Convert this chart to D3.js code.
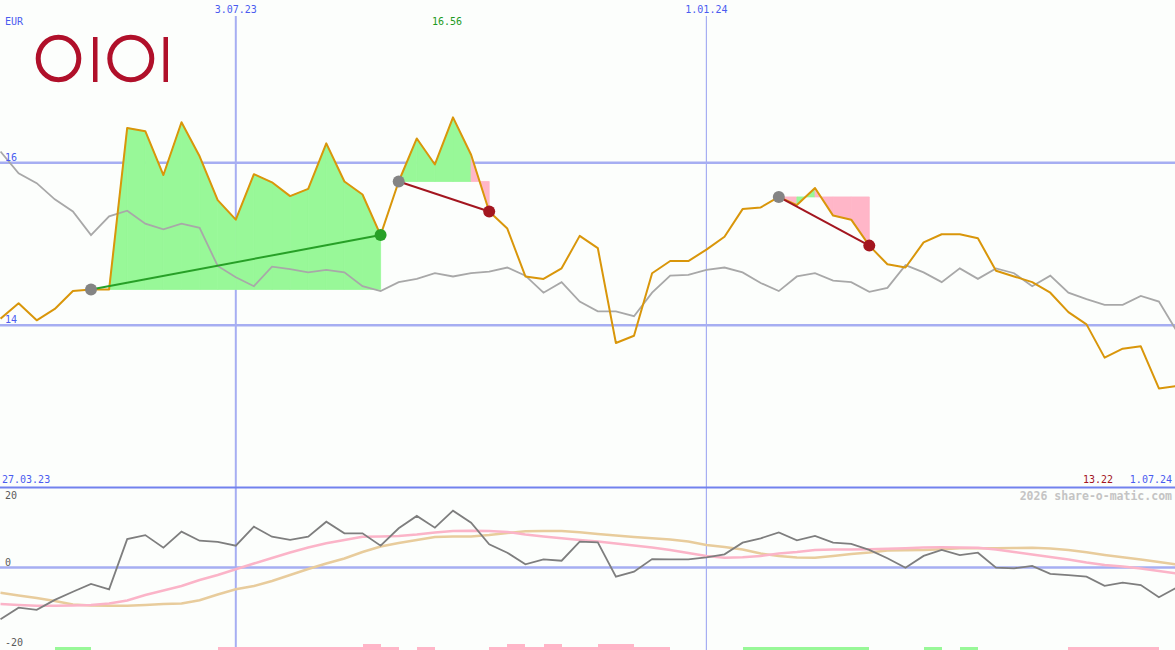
<!DOCTYPE html>
<html><head><meta charset="utf-8">
<script src="https://cdn.jsdelivr.net/npm/d3@7"></script>
<style>html,body{margin:0;padding:0;background:#fcfefc}svg{display:block}</style>
</head><body>
<svg id="chart" width="1175" height="650"></svg>
<script>
// ---------- data ----------
const dates = ["2023-04-03","2023-04-10","2023-04-17","2023-04-24","2023-05-01","2023-05-08","2023-05-15","2023-05-22","2023-05-29","2023-06-05","2023-06-12","2023-06-19","2023-06-26","2023-07-03","2023-07-10","2023-07-17","2023-07-24","2023-07-31","2023-08-07","2023-08-14","2023-08-21","2023-08-28","2023-09-04","2023-09-11","2023-09-18","2023-09-25","2023-10-02","2023-10-09","2023-10-16","2023-10-23","2023-10-30","2023-11-06","2023-11-13","2023-11-20","2023-11-27","2023-12-04","2023-12-11","2023-12-18","2023-12-25","2024-01-01","2024-01-08","2024-01-15","2024-01-22","2024-01-29","2024-02-05","2024-02-12","2024-02-19","2024-02-26","2024-03-04","2024-03-11","2024-03-18","2024-03-25","2024-04-01","2024-04-08","2024-04-15","2024-04-22","2024-04-29","2024-05-06","2024-05-13","2024-05-20","2024-05-27","2024-06-03","2024-06-10","2024-06-17","2024-06-24","2024-07-01"];
const price = [14.08,14.27,14.06,14.20,14.42,14.44,14.44,16.43,16.39,15.85,16.50,16.08,15.54,15.30,15.86,15.76,15.59,15.68,16.24,15.77,15.61,15.11,15.77,16.30,15.98,16.56,16.10,15.40,15.19,14.60,14.57,14.70,15.10,14.95,13.78,13.87,14.64,14.79,14.79,14.93,15.09,15.43,15.45,15.58,15.48,15.69,15.35,15.30,14.98,14.75,14.71,15.02,15.12,15.12,15.07,14.67,14.60,14.53,14.40,14.16,14.01,13.60,13.71,13.74,13.22,13.25];
const benchmark = [16.14,15.87,15.75,15.55,15.40,15.11,15.34,15.41,15.25,15.18,15.25,15.20,14.73,14.59,14.48,14.72,14.69,14.65,14.68,14.65,14.48,14.42,14.53,14.57,14.64,14.60,14.64,14.66,14.71,14.61,14.40,14.53,14.29,14.17,14.17,14.11,14.40,14.61,14.62,14.68,14.71,14.65,14.52,14.42,14.60,14.64,14.55,14.53,14.41,14.46,14.74,14.65,14.53,14.70,14.57,14.70,14.64,14.48,14.61,14.40,14.32,14.25,14.25,14.36,14.29,13.92];
const momentum = [-12.95,-10.05,-10.6,-8.1,-6.05,-4.1,-5.45,7.1,8.1,4.95,8.95,6.7,6.4,5.45,10.2,7.7,6.9,7.7,11.45,8.55,8.55,5.45,9.8,12.9,9.95,14.2,11.2,5.8,3.7,0.8,2.05,1.7,6.45,6.3,-2.3,-1.05,2.1,2.05,2.05,2.55,3.3,6.2,7.3,8.75,6.8,7.9,6.2,5.9,4.4,2.3,-0.05,2.9,4.4,3.1,3.7,-0.05,-0.2,0.4,-1.6,-1.9,-2.3,-4.6,-3.8,-4.4,-7.45,-4.95];
const momentumFast = [-9.13,-9.38,-9.55,-9.55,-9.5,-9.38,-9.0,-8.25,-6.88,-5.75,-4.63,-3.13,-1.88,-0.45,1.0,2.38,3.75,5.0,6.05,6.88,7.7,7.75,7.88,8.25,8.75,9.13,9.2,9.13,8.88,8.25,7.75,7.3,6.88,6.48,6.0,5.5,5.0,4.38,3.63,2.88,2.45,2.58,2.88,3.5,3.88,4.38,4.5,4.5,4.58,4.68,4.8,5.0,5.05,5.0,4.93,4.5,3.88,3.25,2.63,2.0,1.25,0.63,0.25,-0.25,-0.88,-1.5];
const momentumSlow = [-6.3,-7.0,-7.63,-8.38,-9.25,-9.5,-9.55,-9.55,-9.38,-9.13,-8.98,-8.18,-6.75,-5.45,-4.63,-3.38,-1.88,-0.38,1.0,2.25,3.88,5.25,6.13,6.88,7.63,7.75,7.75,8.13,8.63,9.05,9.13,9.13,8.8,8.38,8.0,7.63,7.3,7.0,6.5,5.63,5.13,4.5,3.5,2.88,2.5,2.45,2.88,3.38,3.75,4.25,4.33,4.38,4.55,4.8,4.8,4.8,4.88,4.93,4.75,4.38,3.8,3.13,2.55,2.0,1.38,0.75];
// weekly signal bars: -1 = green, 1 = pink, 2 = strong pink, 0 = none
const signals = [0,0,0,-1,-1,0,0,0,0,0,0,0,1,1,1,1,1,1,1,1,2,1,0,1,0,0,0,1,2,1,2,1,1,2,2,1,1,0,0,0,0,-1,-1,-1,-1,-1,-1,-1,0,0,0,-1,0,-1,0,0,0,0,0,1,1,1,1,1,0];
const trades = [{entry:5, exit:21}, {entry:22, exit:27}, {entry:43, exit:48}];
const priceTicks = [14, 16];
const momTicks = [-20, 0, 20];
const timeTicks = ["2023-07-03", "2024-01-01"];
const currency = "EUR";
const rangeStart = "27.03.23", rangeEnd = "1.07.24";
const maxLabel = "16.56", minLabel = "13.22";
const credit = "2026 share-o-matic.com";

// ---------- chart ----------
const W = 1175, H = 650;
const parse = d3.utcParse("%Y-%m-%d");
const fmt = d3.utcFormat("%-d.%m.%y");
const D = dates.map(parse);
const x = d3.scaleUtc().domain([D[0], D[D.length - 1]]).range([0.5, 1177]);
const y = d3.scaleLinear().domain([12, 18]).range([487.5, 0.5]);
const yo = d3.scaleLinear().domain([-20, 20]).range([647.5, 487.5]);
const hb = d3.scaleLinear().domain([0, 2]).range([0, 6]);

const svg = d3.select("#chart");
const MONO = "'DejaVu Sans Mono', monospace";
const BLUE = "#4a5cf0";
svg.append("rect").attr("width", W).attr("height", H).attr("fill", "#fcfefc");

svg.append("defs").append("clipPath").attr("id", "top").append("rect")
  .attr("x", 0).attr("y", 0).attr("width", W).attr("height", 487);
svg.select("defs").append("clipPath").attr("id", "bot").append("rect")
  .attr("x", 0).attr("y", 489).attr("width", W).attr("height", 161);

// gridlines
svg.selectAll(".hg").data(priceTicks).join("line")
  .attr("x1", 0).attr("x2", W).attr("y1", d => y(d)).attr("y2", d => y(d))
  .attr("stroke", "#a6aef2").attr("stroke-width", 2.5);
svg.append("line").attr("x1", 0).attr("x2", W).attr("y1", yo(0)).attr("y2", yo(0))
  .attr("stroke", "#a6aef2").attr("stroke-width", 2.5);
svg.selectAll(".vg").data(timeTicks).join("line")
  .attr("x1", d => x(parse(d))).attr("x2", d => x(parse(d)))
  .attr("y1", 16).attr("y2", H)
  .attr("stroke", "#a6aef2").attr("stroke-width", (d, i) => i === 0 ? 2 : 1.2);
svg.append("line").attr("x1", 0).attr("x2", W).attr("y1", y(12)).attr("y2", y(12))
  .attr("stroke", "#7282ee").attr("stroke-width", 2.2);

// trade fills
const gTop = svg.append("g").attr("clip-path", "url(#top)");
trades.forEach(t => {
  const e = price[t.entry];
  for (let i = t.entry; i < t.exit; i++) {
    const seg = [i, i + 1];
    const area = d3.area().x(j => x(D[j])).y0(y(e)).y1(j => y(price[j]));
    const col = price[i + 1] >= e ? "#98f898" : "#ffb6c8";
    gTop.append("path").attr("d", area(seg))
      .attr("fill", col).attr("stroke", col).attr("stroke-width", 0.8)
      .attr("stroke-linejoin", "round");
  }
});

// benchmark and price lines
const line = arr => d3.line().x((d, i) => x(D[i])).y(d => y(d))(arr);
gTop.append("path").attr("d", line(benchmark)).attr("fill", "none")
  .attr("stroke", "#a8a8a8").attr("stroke-width", 1.8);
gTop.append("path").attr("d", line(price)).attr("fill", "none")
  .attr("stroke", "#d9960a").attr("stroke-width", 2).attr("stroke-linejoin", "round");

// trade lines and dots
trades.forEach(t => {
  const win = price[t.exit] >= price[t.entry];
  const col = win ? "#27a027" : "#a3161f";
  gTop.append("line")
    .attr("x1", x(D[t.entry])).attr("y1", y(price[t.entry]))
    .attr("x2", x(D[t.exit])).attr("y2", y(price[t.exit]))
    .attr("stroke", col).attr("stroke-width", 2);
  gTop.append("circle").attr("cx", x(D[t.entry])).attr("cy", y(price[t.entry]))
    .attr("r", 6).attr("fill", "#848484");
  gTop.append("circle").attr("cx", x(D[t.exit])).attr("cy", y(price[t.exit]))
    .attr("r", 6).attr("fill", col);
});

// lower panel
const gBot = svg.append("g").attr("clip-path", "url(#bot)");
const oline = arr => d3.line().x((d, i) => x(D[i])).y(d => yo(d))(arr);
gBot.selectAll(".sig").data(signals.map((s, i) => ({s, i})).filter(d => d.s !== 0)).join("rect")
  .attr("x", d => x(D[d.i])).attr("width", d => x(D[d.i + 1]) - x(D[d.i]))
  .attr("y", d => H - hb(d.s < 0 ? 1 : d.s)).attr("height", d => hb(d.s < 0 ? 1 : d.s))
  .attr("fill", d => d.s < 0 ? "#98f898" : "#ffb6c8").attr("shape-rendering", "crispEdges");
gBot.append("path").attr("d", oline(momentumSlow)).attr("fill", "none")
  .attr("stroke", "#e8cc9c").attr("stroke-width", 2.5);
gBot.append("path").attr("d", oline(momentumFast)).attr("fill", "none")
  .attr("stroke", "#fbb4c8").attr("stroke-width", 2.5);
gBot.append("path").attr("d", oline(momentum)).attr("fill", "none")
  .attr("stroke", "#7e7e7e").attr("stroke-width", 1.8);

// logo
const LOGO = "#b0102a";
svg.append("ellipse").attr("cx", 58.5).attr("cy", 58.5).attr("rx", 20.3).attr("ry", 21.3)
  .attr("fill", "none").attr("stroke", LOGO).attr("stroke-width", 5);
svg.append("ellipse").attr("cx", 130.8).attr("cy", 58.5).attr("rx", 21).attr("ry", 21.3)
  .attr("fill", "none").attr("stroke", LOGO).attr("stroke-width", 5);
svg.append("rect").attr("x", 93).attr("y", 37).attr("width", 4.5).attr("height", 45).attr("fill", LOGO);
svg.append("rect").attr("x", 163.5).attr("y", 37).attr("width", 4.5).attr("height", 45).attr("fill", LOGO);

// texts
const txt = (s, tx, ty, col, anchor, size, weight) => svg.append("text")
  .attr("x", tx).attr("y", ty).attr("fill", col).attr("text-anchor", anchor || "start")
  .attr("font-family", MONO).attr("font-size", size || 10).attr("font-weight", weight || "normal")
  .text(s);
txt(currency, 5, 25, BLUE);
timeTicks.forEach(d => txt(fmt(parse(d)), x(parse(d)), 13, BLUE, "middle"));
priceTicks.forEach(v => txt(String(v), 5, y(v) - 2, BLUE));
const iMax = price.indexOf(d3.max(price));
txt(maxLabel, x(D[iMax]) - 6, 25, "#1e9a1e", "middle");
txt(rangeStart, 2, 483, BLUE);
txt(minLabel, 1113, 483, "#a3161f", "end");
txt(rangeEnd, 1172, 483, BLUE, "end");
txt(credit, 1172, 500, "#c4c4c4", "end", 11.5, "bold");
momTicks.forEach(v => txt(String(v), 5, v === 20 ? 499 : yo(v) - 2, "#5a5a5a"));
</script>
</body></html>
